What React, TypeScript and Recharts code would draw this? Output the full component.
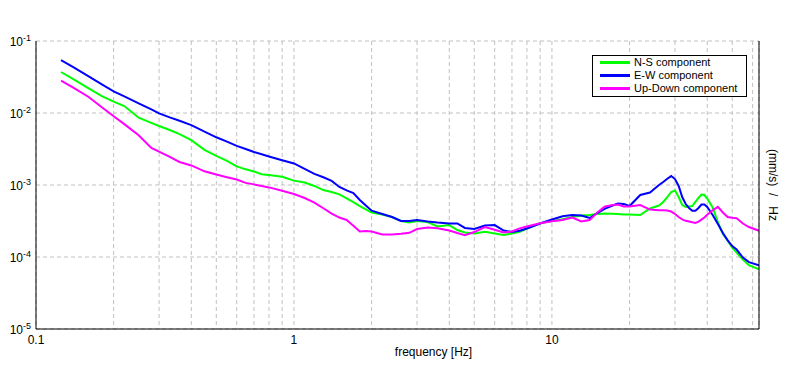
import { CartesianGrid, Legend, Line, LineChart, XAxis, YAxis } from 'recharts';

// frequency [Hz], log spaced by eye along the curves
const frequency = [
  0.125, 0.14, 0.16, 0.18, 0.2, 0.22, 0.25, 0.28, 0.3, 0.33, 0.36, 0.4, 0.45, 0.5, 0.55, 0.6, 0.65, 0.7, 0.75, 0.8,
  0.9, 1.0, 1.1, 1.2, 1.3, 1.4, 1.5, 1.6, 1.7, 1.8, 1.9, 2.0, 2.2, 2.4, 2.6, 2.8, 3.0, 3.3, 3.6, 4.0,
  4.3, 4.6, 5.0, 5.5, 6.0, 6.5, 7.0, 7.5, 8.0, 9.0, 10, 11, 12, 13, 14, 15, 16, 17, 18, 19,
  20, 22, 24, 26, 27, 28, 29, 30, 31, 32, 33, 34, 35, 36, 37, 38, 39, 40, 42, 44,
  46, 48, 50, 52, 55, 58, 63.5,
];

const nsComponent = [
  3.71e-2, 2.93e-2, 2.2e-2, 1.71e-2, 1.44e-2, 1.25e-2, 8.6e-3, 7.3e-3, 6.6e-3, 5.8e-3, 5.1e-3, 4.2e-3, 3.08e-3, 2.53e-3, 2.16e-3, 1.81e-3, 1.65e-3, 1.54e-3, 1.41e-3, 1.38e-3,
  1.3e-3, 1.15e-3, 1.08e-3, 9.7e-4, 8.5e-4, 8.0e-4, 7.4e-4, 6.5e-4, 5.8e-4, 5.1e-4, 4.6e-4, 4.15e-4, 3.89e-4, 3.59e-4, 3.16e-4, 3.01e-4, 3.16e-4, 3.06e-4, 2.65e-4, 2.78e-4,
  2.37e-4, 2.19e-4, 2.12e-4, 2.24e-4, 2.12e-4, 2.02e-4, 2.12e-4, 2.24e-4, 2.49e-4, 2.94e-4, 3.16e-4, 3.34e-4, 3.59e-4, 3.76e-4, 3.83e-4, 3.96e-4, 4.03e-4, 4.0e-4, 3.96e-4, 3.89e-4,
  3.89e-4, 3.83e-4, 4.72e-4, 5.19e-4, 5.81e-4, 6.81e-4, 8.0e-4, 8.4e-4, 6.8e-4, 5.27e-4, 4.95e-4, 5.03e-4, 5.11e-4, 5.81e-4, 6.6e-4, 7.38e-4, 7.26e-4, 6.49e-4, 4.87e-4, 3.06e-4,
  2.09e-4, 1.7e-4, 1.35e-4, 1.15e-4, 9.2e-5, 7.7e-5, 6.75e-5,
];

const ewComponent = [
  5.44e-2, 4.3e-2, 3.23e-2, 2.5e-2, 2.0e-2, 1.7e-2, 1.36e-2, 1.12e-2, 9.9e-3, 8.7e-3, 7.8e-3, 6.8e-3, 5.5e-3, 4.6e-3, 4.0e-3, 3.5e-3, 3.16e-3, 2.87e-3, 2.67e-3, 2.49e-3,
  2.21e-3, 1.99e-3, 1.67e-3, 1.43e-3, 1.28e-3, 1.14e-3, 9.4e-4, 8.4e-4, 7.7e-4, 6.2e-4, 5.2e-4, 4.4e-4, 3.96e-4, 3.59e-4, 3.16e-4, 3.16e-4, 3.27e-4, 3.11e-4, 3.01e-4, 2.92e-4,
  2.92e-4, 2.53e-4, 2.45e-4, 2.74e-4, 2.78e-4, 2.33e-4, 2.22e-4, 2.32e-4, 2.49e-4, 2.92e-4, 3.32e-4, 3.69e-4, 3.83e-4, 3.77e-4, 3.48e-4, 4.08e-4, 4.67e-4, 5.11e-4, 5.53e-4, 5.44e-4,
  5.11e-4, 7.26e-4, 7.87e-4, 1.0e-3, 1.1e-3, 1.22e-3, 1.33e-3, 1.21e-3, 9.7e-4, 6.8e-4, 5.44e-4, 4.79e-4, 4.4e-4, 4.4e-4, 4.79e-4, 5.36e-4, 5.36e-4, 4.95e-4, 3.83e-4, 2.87e-4,
  2.15e-4, 1.7e-4, 1.42e-4, 1.27e-4, 9.8e-5, 8.5e-5, 7.7e-5,
];

const udComponent = [
  2.81e-2, 2.23e-2, 1.67e-2, 1.2e-2, 9.0e-3, 7.0e-3, 4.9e-3, 3.27e-3, 2.91e-3, 2.45e-3, 2.09e-3, 1.87e-3, 1.55e-3, 1.4e-3, 1.28e-3, 1.19e-3, 1.07e-3, 1.02e-3, 9.7e-4, 9.26e-4,
  8.3e-4, 7.5e-4, 6.6e-4, 5.7e-4, 4.75e-4, 4.0e-4, 3.53e-4, 3.27e-4, 2.71e-4, 2.26e-4, 2.3e-4, 2.26e-4, 2.05e-4, 2.06e-4, 2.1e-4, 2.17e-4, 2.45e-4, 2.57e-4, 2.5e-4, 2.33e-4,
  2.15e-4, 2.01e-4, 2.22e-4, 2.61e-4, 2.39e-4, 2.19e-4, 2.26e-4, 2.5e-4, 2.65e-4, 2.94e-4, 3.13e-4, 3.27e-4, 3.54e-4, 3.11e-4, 3.27e-4, 4.15e-4, 4.98e-4, 5.23e-4, 5.36e-4, 5.03e-4,
  5.03e-4, 5.27e-4, 4.55e-4, 4.47e-4, 4.46e-4, 4.42e-4, 4.28e-4, 3.96e-4, 3.59e-4, 3.32e-4, 3.18e-4, 3.11e-4, 3.03e-4, 2.97e-4, 3.1e-4, 3.31e-4, 3.54e-4, 3.86e-4, 4.46e-4, 4.98e-4,
  4.15e-4, 3.59e-4, 3.5e-4, 3.45e-4, 2.92e-4, 2.61e-4, 2.32e-4,
];

const xLabelTicks = [0.1, 1, 10];
const xGridTicks = [
  0.1, 0.2, 0.3, 0.4, 0.5, 0.6, 0.7, 0.8, 0.9,
  1, 2, 3, 4, 5, 6, 7, 8, 9,
  10, 20, 30, 40, 50, 60,
];
const yTicks = [1e-5, 1e-4, 1e-3, 1e-2, 1e-1];

const seriesInfo = [
  { key: 'ns', label: 'N-S component', color: '#00ff00' },
  { key: 'ew', label: 'E-W component', color: '#0000ff' },
  { key: 'ud', label: 'Up-Down component', color: '#ff00ff' },
];

const data = frequency.map((f, i) => ({
  f,
  ns: nsComponent[i],
  ew: ewComponent[i],
  ud: udComponent[i],
}));

function FreqTick({ x, y, payload }: any) {
  if (!xLabelTicks.includes(payload.value)) return <g />;
  return (
    <text x={x} y={y + 7} textAnchor="middle" fontSize={12} fill="#000">
      {String(payload.value)}
    </text>
  );
}

function PowerTick({ x, y, payload }: any) {
  const exp = Math.round(Math.log10(payload.value));
  return (
    <text x={x + 3} y={y + 4.5} textAnchor="end" fontSize={12} fill="#000">
      10
      <tspan dy={-5} fontSize={9}>
        {String(exp)}
      </tspan>
    </text>
  );
}

function LegendBox() {
  return (
    <div style={{ border: '1px solid #000', background: '#fff', width: 153, paddingBottom: 1, fontSize: 11 }}>
      {seriesInfo.map((s) => (
        <div key={s.key} style={{ display: 'flex', alignItems: 'center', height: 13, lineHeight: '13px' }}>
          <span style={{ display: 'inline-block', width: 30, height: 3, background: s.color, marginLeft: 7, marginRight: 4 }} />
          <span>{s.label}</span>
        </div>
      ))}
    </div>
  );
}

export default function App() {
  return (
    <div
      style={{
        position: 'absolute',
        left: 0,
        top: 0,
        width: 796,
        height: 370,
        background: '#fff',
        fontFamily: '"Liberation Sans", Arial, sans-serif',
      }}
    >
      <LineChart width={796} height={370} data={data} margin={{ top: 41, right: 0, bottom: 0, left: 0 }}>
        <CartesianGrid stroke="#c0c0c0" strokeDasharray="4 3" />
        <XAxis
          dataKey="f"
          type="number"
          scale="log"
          domain={[0.1, 63.5]}
          allowDataOverflow
          ticks={xGridTicks}
          interval={0}
          height={41}
          tick={<FreqTick />}
          tickLine={false}
          axisLine={{ stroke: '#000' }}
          label={{ value: 'frequency [Hz]', position: 'insideBottom', offset: 14, dx: 36, fill: '#000', fontSize: 12 }}
        />
        <XAxis
          xAxisId="top"
          orientation="top"
          dataKey="f"
          type="number"
          scale="log"
          domain={[0.1, 63.5]}
          allowDataOverflow
          height={0}
          tick={false}
          tickLine={false}
          axisLine={{ stroke: '#000' }}
        />
        <YAxis
          type="number"
          scale="log"
          domain={[1e-5, 1e-1]}
          allowDataOverflow
          ticks={yTicks}
          interval={0}
          width={36}
          tick={<PowerTick />}
          tickLine={false}
          axisLine={{ stroke: '#000' }}
        />
        <YAxis
          yAxisId="right"
          orientation="right"
          type="number"
          domain={[0, 1]}
          width={37}
          tick={false}
          tickLine={false}
          axisLine={{ stroke: '#000' }}
          label={{ value: '(mm/s)\u00a0\u00a0/\u00a0\u00a0\u00a0Hz', angle: 90, position: 'center', dx: -4, fill: '#000', fontSize: 12 }}
        />
        <Legend
          layout="horizontal"
          verticalAlign="middle"
          align="center"
          content={() => <LegendBox />}
          wrapperStyle={{ top: 55, left: 592, width: 155 }}
        />
        {seriesInfo.map((s) => (
          <Line
            key={s.key}
            dataKey={s.key}
            name={s.label}
            type="linear"
            stroke={s.color}
            strokeWidth={2}
            dot={false}
            isAnimationActive={false}
          />
        ))}
      </LineChart>
    </div>
  );
}
